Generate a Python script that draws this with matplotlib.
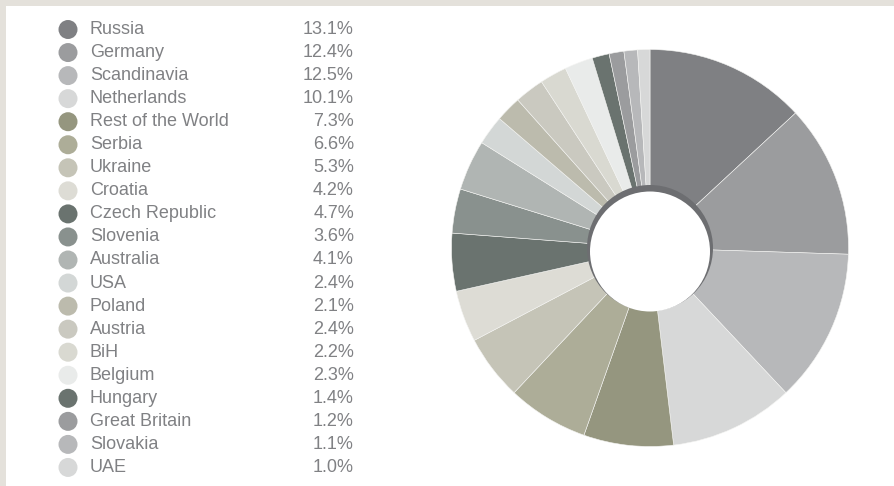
import matplotlib
matplotlib.use("Agg")
import matplotlib.pyplot as plt
from matplotlib.patches import Circle, Rectangle

# Share of sales by market
countries = ["Russia", "Germany", "Scandinavia", "Netherlands", "Rest of the World",
             "Serbia", "Ukraine", "Croatia", "Czech Republic", "Slovenia",
             "Australia", "USA", "Poland", "Austria", "BiH",
             "Belgium", "Hungary", "Great Britain", "Slovakia", "UAE"]
shares = [13.1, 12.4, 12.5, 10.1, 7.3,
          6.6, 5.3, 4.2, 4.7, 3.6,
          4.1, 2.4, 2.1, 2.4, 2.2,
          2.3, 1.4, 1.2, 1.1, 1.0]
colors = ["#7f8083", "#9b9c9e", "#b7b8ba", "#d7d8d8", "#95967f",
          "#adad98", "#c5c4b7", "#dddcd5", "#6a736f", "#89918e",
          "#b0b5b3", "#d3d7d6", "#bcbbad", "#cac9c0", "#d9d9d1",
          "#e9ebea", "#6a736f", "#9b9c9e", "#b7b8ba", "#d7d8d8"]

W, H = 895, 486
fig = plt.figure(figsize=(W / 100, H / 100), dpi=100)
ax = fig.add_axes([0, 0, 1, 1])
ax.set_xlim(0, W)
ax.set_ylim(0, H)
ax.set_aspect("equal")
ax.axis("off")

plt.rcParams["font.family"] = ["Liberation Sans", "DejaVu Sans"]
text_color = "#808184"

# Page frame (top and left band)
frame = "#e4e1db"
ax.add_patch(Rectangle((0, H - 6), W, 6, color=frame, lw=0, zorder=1))
ax.add_patch(Rectangle((0, 0), 6, H, color=frame, lw=0, zorder=1))

# Legend with percentages
y0, step = H - 29.5, 23.05
for i, (name, val, col) in enumerate(zip(countries, shares, colors)):
    y = y0 - i * step
    ax.add_patch(Circle((68, y), 9.5, color=col, lw=0, zorder=3))
    ax.text(90, y, name, fontsize=13, color=text_color, va="center", ha="left",
            zorder=3)
    ax.text(354, y, f"{val:.1f}%", fontsize=13, color=text_color, va="center",
            ha="right", zorder=3)

# Donut
cx, cy, R = 650, H - 248, 198.5
ax.pie(shares, colors=colors, startangle=90, counterclock=False,
       center=(cx, cy), radius=R, frame=True,
       wedgeprops=dict(linewidth=0.4, edgecolor="#f4f4f2"))
ax.add_patch(Circle((cx, cy), 63, color="#6d6e71", lw=0, zorder=5))
ax.add_patch(Circle((cx, cy - 3.5), 60, color="white", lw=0, zorder=6))

ax.set_xlim(0, W)
ax.set_ylim(0, H)
ax.axis("off")

fig.savefig("out.png", dpi=100, facecolor="white")
